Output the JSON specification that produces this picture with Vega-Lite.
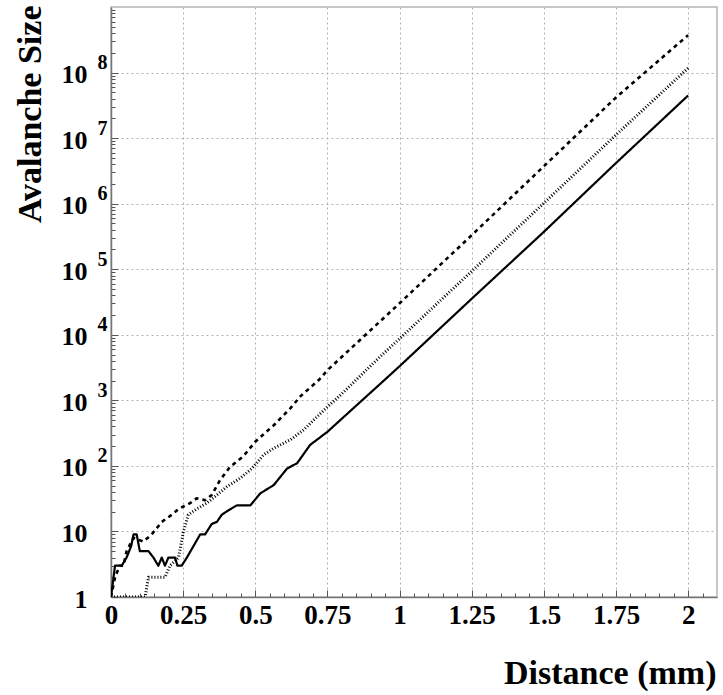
{
  "$schema": "https://vega.github.io/schema/vega-lite/v6.json",
  "width": 606,
  "height": 590,
  "autosize": "none",
  "padding": {"left": 111, "top": 7, "right": 6, "bottom": 98},
  "background": "white",
  "config": {
    "view": {"stroke": "#b5b5b5", "strokeWidth": 1.5},
    "font": "Liberation Serif"
  },
  "data": {
    "values": [
      {"series": "solid", "x": 0, "y": 1},
      {"series": "solid", "x": 0.014, "y": 3},
      {"series": "solid", "x": 0.037, "y": 3},
      {"series": "solid", "x": 0.054, "y": 4},
      {"series": "solid", "x": 0.07, "y": 6},
      {"series": "solid", "x": 0.078, "y": 9},
      {"series": "solid", "x": 0.089, "y": 9},
      {"series": "solid", "x": 0.1, "y": 5},
      {"series": "solid", "x": 0.118, "y": 5},
      {"series": "solid", "x": 0.13, "y": 5},
      {"series": "solid", "x": 0.147, "y": 4},
      {"series": "solid", "x": 0.164, "y": 3},
      {"series": "solid", "x": 0.176, "y": 4},
      {"series": "solid", "x": 0.187, "y": 3},
      {"series": "solid", "x": 0.199, "y": 4},
      {"series": "solid", "x": 0.222, "y": 4},
      {"series": "solid", "x": 0.23, "y": 3},
      {"series": "solid", "x": 0.245, "y": 3},
      {"series": "solid", "x": 0.263, "y": 4},
      {"series": "solid", "x": 0.286, "y": 6},
      {"series": "solid", "x": 0.309, "y": 9},
      {"series": "solid", "x": 0.326, "y": 9},
      {"series": "solid", "x": 0.349, "y": 13},
      {"series": "solid", "x": 0.367, "y": 14},
      {"series": "solid", "x": 0.384, "y": 18},
      {"series": "solid", "x": 0.407, "y": 21},
      {"series": "solid", "x": 0.436, "y": 25},
      {"series": "solid", "x": 0.483, "y": 25},
      {"series": "solid", "x": 0.517, "y": 38},
      {"series": "solid", "x": 0.564, "y": 51},
      {"series": "solid", "x": 0.61, "y": 91},
      {"series": "solid", "x": 0.645, "y": 110},
      {"series": "solid", "x": 0.69, "y": 209},
      {"series": "solid", "x": 0.75, "y": 331},
      {"series": "solid", "x": 0.8, "y": 525},
      {"series": "solid", "x": 0.934, "y": 1800},
      {"series": "solid", "x": 1.0, "y": 3311},
      {"series": "solid", "x": 1.25, "y": 35480},
      {"series": "solid", "x": 1.5, "y": 371500},
      {"series": "solid", "x": 1.75, "y": 4170000},
      {"series": "solid", "x": 2.0, "y": 44700000},

      {"series": "dashed", "x": 0, "y": 1},
      {"series": "dashed", "x": 0.014, "y": 2},
      {"series": "dashed", "x": 0.03, "y": 3},
      {"series": "dashed", "x": 0.043, "y": 3},
      {"series": "dashed", "x": 0.054, "y": 5},
      {"series": "dashed", "x": 0.078, "y": 8},
      {"series": "dashed", "x": 0.112, "y": 7},
      {"series": "dashed", "x": 0.141, "y": 9},
      {"series": "dashed", "x": 0.176, "y": 14},
      {"series": "dashed", "x": 0.211, "y": 18},
      {"series": "dashed", "x": 0.234, "y": 22},
      {"series": "dashed", "x": 0.251, "y": 24},
      {"series": "dashed", "x": 0.274, "y": 27},
      {"series": "dashed", "x": 0.297, "y": 32},
      {"series": "dashed", "x": 0.326, "y": 30},
      {"series": "dashed", "x": 0.349, "y": 36},
      {"series": "dashed", "x": 0.378, "y": 61},
      {"series": "dashed", "x": 0.413, "y": 97},
      {"series": "dashed", "x": 0.459, "y": 141},
      {"series": "dashed", "x": 0.5, "y": 234},
      {"series": "dashed", "x": 0.564, "y": 417},
      {"series": "dashed", "x": 0.622, "y": 760},
      {"series": "dashed", "x": 0.656, "y": 1150},
      {"series": "dashed", "x": 0.72, "y": 2040},
      {"series": "dashed", "x": 0.75, "y": 2884},
      {"series": "dashed", "x": 1.0, "y": 30200},
      {"series": "dashed", "x": 1.25, "y": 331000},
      {"series": "dashed", "x": 1.5, "y": 3720000},
      {"series": "dashed", "x": 1.75, "y": 41700000},
      {"series": "dashed", "x": 2.0, "y": 372000000},

      {"series": "dotted", "x": 0, "y": 1},
      {"series": "dotted", "x": 0.118, "y": 1},
      {"series": "dotted", "x": 0.13, "y": 2},
      {"series": "dotted", "x": 0.187, "y": 2},
      {"series": "dotted", "x": 0.204, "y": 3},
      {"series": "dotted", "x": 0.234, "y": 4},
      {"series": "dotted", "x": 0.251, "y": 10},
      {"series": "dotted", "x": 0.268, "y": 18},
      {"series": "dotted", "x": 0.297, "y": 22},
      {"series": "dotted", "x": 0.332, "y": 27},
      {"series": "dotted", "x": 0.367, "y": 36},
      {"series": "dotted", "x": 0.401, "y": 48},
      {"series": "dotted", "x": 0.448, "y": 65},
      {"series": "dotted", "x": 0.488, "y": 91},
      {"series": "dotted", "x": 0.529, "y": 148},
      {"series": "dotted", "x": 0.564, "y": 186},
      {"series": "dotted", "x": 0.622, "y": 251},
      {"series": "dotted", "x": 0.668, "y": 355},
      {"series": "dotted", "x": 0.714, "y": 562},
      {"series": "dotted", "x": 0.75, "y": 794},
      {"series": "dotted", "x": 0.795, "y": 1200},
      {"series": "dotted", "x": 0.934, "y": 4700},
      {"series": "dotted", "x": 1.0, "y": 8710},
      {"series": "dotted", "x": 1.25, "y": 93300},
      {"series": "dotted", "x": 1.5, "y": 1020000},
      {"series": "dotted", "x": 1.75, "y": 11200000},
      {"series": "dotted", "x": 2.0, "y": 117000000}
    ]
  },
  "layer": [
    {
      "mark": {"type": "line", "color": "black", "strokeCap": "butt", "strokeJoin": "round", "clip": true},
      "encoding": {
        "x": {
          "field": "x", "type": "quantitative",
          "scale": {"domain": [0, 2.1], "nice": false, "zero": false},
          "axis": {
            "orient": "bottom",
            "values": [0, 0.25, 0.5, 0.75, 1, 1.25, 1.5, 1.75, 2],
            "labelExpr": "'' + datum.value",
            "labelFont": "Liberation Serif", "labelFontWeight": "bold", "labelFontSize": 27,
            "labelColor": "black", "labelBaseline": "top", "labelPadding": 12,
            "labelFlush": false, "labelOverlap": false, "labelBound": false,
            "tickSize": -7, "tickColor": "#555", "tickWidth": 1,
            "domainColor": "#777", "domainWidth": 1.5,
            "grid": true, "gridColor": "#b0b0b0", "gridDash": [2, 3], "gridWidth": 1,
            "title": "Distance (mm)",
            "titleFont": "Liberation Serif", "titleFontWeight": "bold", "titleFontSize": 34,
            "titleColor": "black", "titleX": 605, "titleY": 86,
            "titleAlign": "right", "titleBaseline": "alphabetic"
          }
        },
        "y": {
          "field": "y", "type": "quantitative",
          "scale": {"type": "log", "domain": [1, 1000000000], "nice": false},
          "axis": {
            "orient": "left",
            "values": [1, 10, 100, 1000, 10000, 100000, 1000000, 10000000, 100000000],
            "labelExpr": "datum.value < 5 ? '1' : '10'",
            "labelFont": "Liberation Serif", "labelFontWeight": "bold", "labelFontSize": 26,
            "labelColor": "black", "labelAlign": "right", "labelBaseline": "middle",
            "labelPadding": 31, "labelOffset": 2,
            "labelFlush": false, "labelOverlap": false, "labelBound": false,
            "tickSize": -7, "tickColor": "#555", "tickWidth": 1,
            "domainColor": "#777", "domainWidth": 1.5,
            "grid": true, "gridColor": "#b0b0b0", "gridDash": [2, 3], "gridWidth": 1,
            "title": "Avalanche Size",
            "titleFont": "Liberation Serif", "titleFontWeight": "bold", "titleFontSize": 34,
            "titleColor": "black", "titleAngle": -90, "titleX": -71, "titleY": -2,
            "titleAlign": "right", "titleBaseline": "alphabetic"
          }
        },
        "strokeDash": {
          "field": "series", "type": "nominal",
          "scale": {"domain": ["solid", "dashed", "dotted"], "range": [[1, 0], [4, 4], [1, 2]]},
          "legend": null
        },
        "strokeWidth": {
          "field": "series", "type": "nominal",
          "scale": {"domain": ["solid", "dashed", "dotted"], "range": [2.2, 3, 1.6]},
          "legend": null
        }
      }
    },
    {
      "mark": {"type": "point", "opacity": 0},
      "encoding": {
        "x": {
          "field": "x", "type": "quantitative",
          "scale": {"domain": [0, 2.1], "nice": false, "zero": false},
          "axis": {
            "orient": "bottom",
            "values": [0.05, 0.1, 0.15, 0.2, 0.3, 0.35, 0.4, 0.45, 0.55, 0.6, 0.65, 0.7, 0.8, 0.85, 0.9, 0.95, 1.05, 1.1, 1.15, 1.2, 1.3, 1.35, 1.4, 1.45, 1.55, 1.6, 1.65, 1.7, 1.8, 1.85, 1.9, 1.95, 2.05],
            "labels": false, "domain": false, "grid": false,
            "tickSize": -4, "tickColor": "#555", "tickWidth": 1,
            "title": null
          }
        },
        "y": {
          "field": "y", "type": "quantitative",
          "scale": {"type": "log", "domain": [1, 1000000000], "nice": false},
          "axis": {
            "orient": "left",
            "values": [1, 10, 100, 1000, 10000, 100000, 1000000, 10000000, 100000000],
            "labelExpr": "datum.value < 50 ? '' : '' + round(log(datum.value) / LN10)",
            "labelFont": "Liberation Serif", "labelFontWeight": "bold", "labelFontSize": 20,
            "labelColor": "black", "labelAlign": "left", "labelBaseline": "middle",
            "labelPadding": 14, "labelOffset": -10,
            "labelFlush": false, "labelOverlap": false, "labelBound": false,
            "ticks": false, "tickSize": 0, "domain": false, "grid": false,
            "title": null
          }
        }
      }
    },
    {
      "mark": {"type": "point", "opacity": 0},
      "encoding": {
        "x": {
          "field": "x", "type": "quantitative",
          "scale": {"domain": [0, 2.1], "nice": false, "zero": false},
          "axis": null
        },
        "y": {
          "field": "y", "type": "quantitative",
          "scale": {"type": "log", "domain": [1, 1000000000], "nice": false},
          "axis": {
            "orient": "left",
            "values": [2, 3, 4, 5, 6, 7, 8, 9, 20, 30, 40, 50, 60, 70, 80, 90, 200, 300, 400, 500, 600, 700, 800, 900, 2000, 3000, 4000, 5000, 6000, 7000, 8000, 9000, 20000, 30000, 40000, 50000, 60000, 70000, 80000, 90000, 200000, 300000, 400000, 500000, 600000, 700000, 800000, 900000, 2000000, 3000000, 4000000, 5000000, 6000000, 7000000, 8000000, 9000000, 20000000, 30000000, 40000000, 50000000, 60000000, 70000000, 80000000, 90000000, 200000000, 300000000, 400000000, 500000000, 600000000, 700000000, 800000000, 900000000],
            "labels": false, "domain": false, "grid": false,
            "tickSize": -4, "tickColor": "#555", "tickWidth": 1,
            "title": null
          }
        }
      }
    }
  ],
  "resolve": {"axis": {"x": "independent", "y": "independent"}}
}
